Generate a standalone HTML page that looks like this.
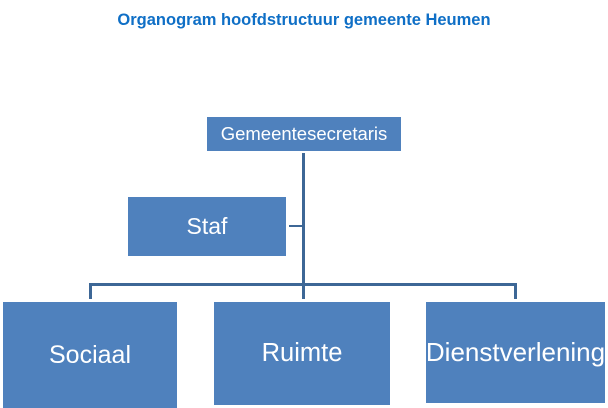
<!DOCTYPE html>
<html><head><style>
body{margin:0;width:608px;height:408px;background:#fff;position:relative;overflow:hidden;font-family:"Liberation Sans",sans-serif}
.b{position:absolute;background:#4f81bd;color:#fff;display:flex;align-items:center;justify-content:center;white-space:nowrap}
.l{position:absolute;background:#3d6796}
</style></head><body>
<div style="position:absolute;left:0;width:608px;top:11px;text-align:center;color:#0f6fc6;font-weight:bold;font-size:16.5px">Organogram hoofdstructuur gemeente Heumen</div>
<div class="b" style="left:207px;top:117px;width:194px;height:34px;font-size:18.5px">Gemeentesecretaris</div>
<div class="b" style="left:128px;top:197px;width:158px;height:59px;font-size:23px">Staf</div>
<div class="l" style="left:302px;top:153px;width:3px;height:146px"></div>
<div class="l" style="left:289px;top:225px;width:14px;height:2px"></div>
<div class="l" style="left:89px;top:283px;width:428px;height:3px"></div>
<div class="l" style="left:89px;top:283px;width:3px;height:16px"></div>
<div class="l" style="left:514px;top:283px;width:3px;height:16px"></div>
<div class="b" style="left:3px;top:302px;width:174px;height:106px;font-size:25px">Sociaal</div>
<div class="b" style="left:214px;top:302px;width:176px;height:103px;font-size:25.5px">Ruimte</div>
<div class="b" style="left:426px;top:302px;width:179px;height:101px;font-size:26px">Dienstverlening</div>
</body></html>
